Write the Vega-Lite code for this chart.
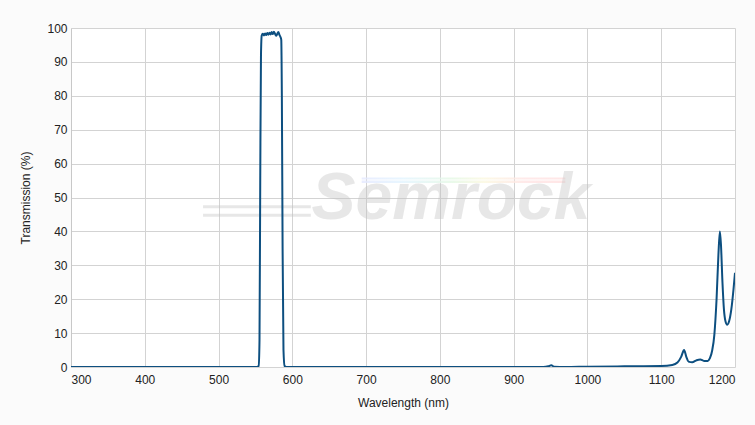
{
  "$schema": "https://vega.github.io/schema/vega-lite/v6.json",
  "width": 664,
  "height": 339,
  "autosize": {"type": "none"},
  "padding": {"left": 71, "top": 28, "right": 20, "bottom": 58},
  "background": "#fbfbfb",
  "config": {
    "view": {"fill": "white", "stroke": null},
    "font": "Liberation Sans",
    "axis": {
      "labelFont": "Liberation Sans",
      "titleFont": "Liberation Sans",
      "labelFontSize": 12,
      "titleFontSize": 12,
      "titleFontWeight": "normal",
      "labelColor": "#222",
      "titleColor": "#222",
      "gridColor": "#d3d3d3",
      "gridOpacity": 1,
      "ticks": false,
      "labelOverlap": false,
      "domainColor": "#c8c8c8"
    }
  },
  "encoding": {
    "x": {"field": "w", "type": "quantitative", "scale": {"domain": [300, 1200], "nice": false},
      "axis": {"title": "Wavelength (nm)", "format": "d", "values": [300,400,500,600,700,800,900,1000,1100,1200], "labelPadding": 7, "titlePadding": 12, "domain": false, "grid": true}},
    "y": {"field": "t", "type": "quantitative", "scale": {"domain": [0, 100], "nice": false},
      "axis": {"title": "Transmission (%)", "values": [0,10,20,30,40,50,60,70,80,90,100], "labelPadding": 4, "titlePadding": 14, "grid": true}}
  },
  "layer": [
    {
      "data": {"values": [{"w": 479, "w2": 625, "t": 47.3}, {"w": 479, "w2": 625, "t": 44.8}]},
      "mark": {"type": "rule", "color": "#c4c4c4", "opacity": 0.4, "strokeWidth": 3},
      "encoding": {"x2": {"field": "w2"}}
    },
    {
      "data": {"values": [{"w": 694, "w2": 970, "t": 55.9, "t2": 55.3}, {"w": 694, "w2": 970, "t": 55.0, "t2": 54.3}]},
      "mark": {"type": "rect", "opacity": 0.8, "color": {"gradient": "linear", "x1": 0, "x2": 1, "y1": 0, "y2": 0, "stops": [
        {"offset": 0, "color": "#e4e8ff"},
        {"offset": 0.2, "color": "#e2f4ff"},
        {"offset": 0.45, "color": "#e4f8e4"},
        {"offset": 0.6, "color": "#fbf8df"},
        {"offset": 0.8, "color": "#ffe4e4"},
        {"offset": 1, "color": "#ffe0e0"}
      ]}},
      "encoding": {"x2": {"field": "w2"}, "y2": {"field": "t2"}}
    },
    {
      "data": {"values": [{"w": 815, "t": 49.5, "s": "Semrock"}]},
      "mark": {"type": "text", "font": "Liberation Sans", "fontStyle": "italic", "fontWeight": "bold", "fontSize": 66, "color": "#c2c2c2", "opacity": 0.38, "align": "center", "baseline": "middle"},
      "encoding": {"text": {"field": "s"}}
    },
    {
      "data": {"values": [
        {"w": 300, "t": 0}, {"w": 550, "t": 0}, {"w": 554.5, "t": 0.3}, {"w": 555.5, "t": 8},
        {"w": 556.5, "t": 55}, {"w": 557.5, "t": 92}, {"w": 558.5, "t": 97.8}, {"w": 560, "t": 98.3},
        {"w": 561.5, "t": 97.8}, {"w": 563, "t": 98.4}, {"w": 564.5, "t": 97.9}, {"w": 566, "t": 98.5},
        {"w": 567.5, "t": 98.0}, {"w": 569, "t": 98.6}, {"w": 570.5, "t": 98.1}, {"w": 572, "t": 98.8},
        {"w": 573.5, "t": 98.2}, {"w": 575, "t": 98.9}, {"w": 576.5, "t": 98.3}, {"w": 578, "t": 97.7},
        {"w": 579.5, "t": 98.2}, {"w": 581, "t": 98.8}, {"w": 582.5, "t": 98.0}, {"w": 584, "t": 97.3},
        {"w": 585, "t": 96.5}, {"w": 585.8, "t": 80}, {"w": 586.8, "t": 35}, {"w": 588, "t": 5},
        {"w": 589.5, "t": 0.3}, {"w": 592, "t": 0}, {"w": 940, "t": 0}, {"w": 947, "t": 0.2},
        {"w": 951, "t": 0.5}, {"w": 955, "t": 0.1}, {"w": 970, "t": 0}, {"w": 1000, "t": 0.1},
        {"w": 1050, "t": 0.2}, {"w": 1100, "t": 0.3}, {"w": 1115, "t": 0.6}, {"w": 1122, "t": 1.3},
        {"w": 1127, "t": 3}, {"w": 1131, "t": 5}, {"w": 1134, "t": 3}, {"w": 1137, "t": 1.6},
        {"w": 1142, "t": 1.4}, {"w": 1148, "t": 2}, {"w": 1153, "t": 2.2}, {"w": 1158, "t": 1.8},
        {"w": 1163, "t": 1.8}, {"w": 1166, "t": 2.6}, {"w": 1169, "t": 4.8}, {"w": 1172, "t": 9.5},
        {"w": 1175, "t": 20}, {"w": 1177.5, "t": 33}, {"w": 1179.5, "t": 40}, {"w": 1181, "t": 36},
        {"w": 1183, "t": 25}, {"w": 1185, "t": 17}, {"w": 1187, "t": 13.6}, {"w": 1189.5, "t": 12.5},
        {"w": 1192, "t": 13.5}, {"w": 1195, "t": 17}, {"w": 1198, "t": 23}, {"w": 1200, "t": 27.8}
      ]},
      "mark": {"type": "line", "color": "#0d4f80", "strokeWidth": 2, "interpolate": "monotone", "clip": true}
    }
  ]
}
